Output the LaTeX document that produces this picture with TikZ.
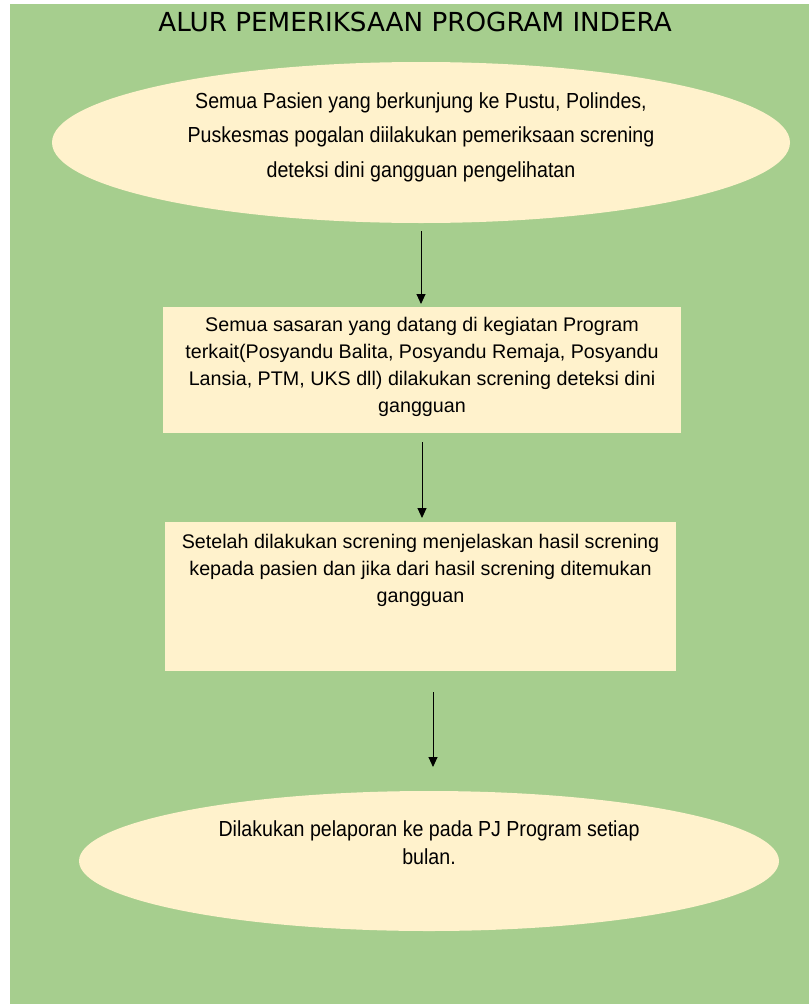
\documentclass[tikz,border=0pt]{standalone}
\usepackage{fontspec}
\setmainfont{Liberation Sans}
\newfontfamily\titlefont{DejaVu Sans}
\newfontfamily\narrowfont[FakeStretch=0.9]{Liberation Sans}
\usepackage{xcolor}
\usepackage{tikz}
\usetikzlibrary{shapes,arrows.meta,positioning}

\definecolor{pagegreen}{HTML}{A6CE8E}
\definecolor{boxcream}{HTML}{FFF2CC}

\begin{document}
\begin{tikzpicture}[
    x=1pt, y=-1pt,
    oval/.style={ellipse, fill=boxcream, inner sep=0pt, outer sep=0pt},
    block/.style={rectangle, fill=boxcream, inner sep=0pt, outer sep=0pt},
    ovaltext/.style={align=center, inner sep=0pt, font=\narrowfont\fontsize{21.8}{34.5}\selectfont},
    blocktext/.style={align=center, inner sep=0pt, font=\fontsize{19.7}{27}\selectfont},
    arrow/.style={line width=0.9pt,->,>={Triangle[length=10pt,width=9pt]}}
]
    \useasboundingbox (0,0) rectangle (809,1004);
    \fill[pagegreen] (10,4) rectangle (809,1004);

    \node[font=\titlefont\fontsize{26.2}{30}\selectfont] (title) at (415,22) {ALUR PEMERIKSAAN PROGRAM INDERA};

    \node[oval, minimum width=738pt, minimum height=161pt] (pasien) at (421,142.5) {};
    \node[block, minimum width=518pt, minimum height=126pt] (sasaran) at (422,370) {};
    \node[block, minimum width=511pt, minimum height=149pt] (hasil) at (420.5,596.5) {};
    \node[oval, minimum width=700pt, minimum height=140pt] (lapor) at (429,861) {};

    \node[ovaltext] (pasientext) at ([yshift=5.5pt]pasien) {Semua Pasien yang berkunjung ke Pustu, Polindes,\\Puskesmas pogalan diilakukan pemeriksaan screning\\deteksi dini gangguan pengelihatan};
    \node[blocktext] (sasarantext) at ([yshift=3.5pt]sasaran) {Semua sasaran yang datang di kegiatan Program\\terkait(Posyandu Balita, Posyandu Remaja, Posyandu\\Lansia, PTM, UKS dll) dilakukan screning deteksi dini\\gangguan};
    \node[blocktext, below=12pt of hasil.north] (hasiltext) {Setelah dilakukan screning menjelaskan hasil screning\\kepada pasien dan jika dari hasil screning ditemukan\\gangguan};
    \node[ovaltext, font=\narrowfont\fontsize{21.8}{28}\selectfont] (laportext) at ([yshift=18pt]lapor) {Dilakukan pelaporan ke pada PJ Program setiap\\bulan.};

    \draw[arrow, shorten <=8pt, shorten >=3pt] (pasien.south) -- (pasien.south |- sasaran.north);
    \draw[arrow, shorten <=9pt, shorten >=4pt] (sasaran.south) -- (sasaran.south |- hasil.north);
    \draw[arrow, shorten <=21pt, shorten >=24pt] ([xshift=4pt]hasil.south -| lapor.north) -- ([xshift=4pt]lapor.north);
\end{tikzpicture}
\end{document}
